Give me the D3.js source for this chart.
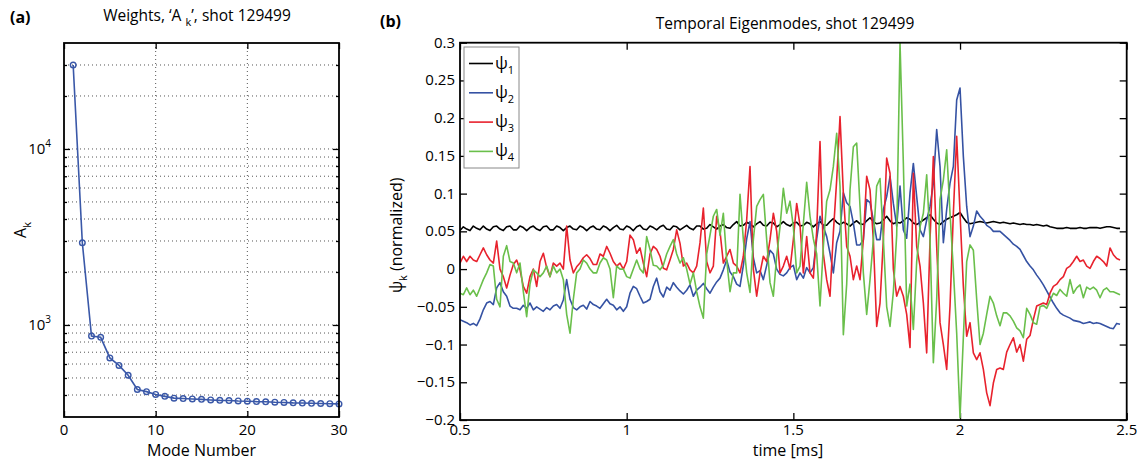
<!DOCTYPE html>
<html>
<head>
<meta charset="utf-8">
<script src="https://cdn.jsdelivr.net/npm/d3@7"></script>
<style>
  body { margin: 0; background: #fff; }
  svg { font-family: "Open Sans", sans-serif; }
  text { fill: #000; }
</style>
</head>
<body>
<div id="chart"></div>
<script>
/* Weights + temporal eigenmodes, shot 129499 */

// panel (a): weights A_k per mode
const modeNumbers = d3.range(1, 31);
const weights = [30000, 2930, 865, 851, 650, 589, 518, 430, 418, 403,
  393, 384, 382, 380, 378, 375, 373, 372, 370, 369,
  367, 366, 364, 363, 361, 360, 359, 358, 357, 356];

// panel (b): time base (ms), sampled every 0.01 from 0.50 to 2.48
const timeMs = d3.range(199).map(i => +(0.5 + i * 0.01).toFixed(2));

const psi1 = [
  0.051, 0.056, 0.053, 0.051, 0.057, 0.054, 0.052, 0.057, 0.053, 0.051,
  0.056, 0.057, 0.053, 0.051, 0.056, 0.057, 0.052, 0.052, 0.057, 0.055,
  0.051, 0.055, 0.057, 0.053, 0.051, 0.056, 0.057, 0.052, 0.052, 0.057,
  0.055, 0.051, 0.055, 0.057, 0.053, 0.052, 0.057, 0.055, 0.051, 0.055,
  0.057, 0.053, 0.052, 0.057, 0.055, 0.051, 0.055, 0.058, 0.053, 0.052,
  0.057, 0.055, 0.051, 0.056, 0.058, 0.053, 0.052, 0.057, 0.055, 0.052,
  0.056, 0.058, 0.053, 0.052, 0.057, 0.056, 0.052, 0.055, 0.058, 0.054,
  0.052, 0.057, 0.057, 0.053, 0.054, 0.059, 0.056, 0.053, 0.057, 0.059,
  0.055, 0.054, 0.059, 0.063, 0.057, 0.058, 0.062, 0.060, 0.056, 0.060,
  0.063, 0.058, 0.057, 0.062, 0.061, 0.056, 0.059, 0.063, 0.059, 0.057,
  0.061, 0.062, 0.057, 0.058, 0.062, 0.060, 0.056, 0.060, 0.063, 0.058,
  0.058, 0.063, 0.067, 0.062, 0.059, 0.062, 0.060, 0.057, 0.061, 0.064,
  0.060, 0.059, 0.064, 0.068, 0.063, 0.060, 0.061, 0.065, 0.070, 0.064,
  0.060, 0.062, 0.061, 0.064, 0.068, 0.066, 0.061, 0.059, 0.062, 0.065,
  0.068, 0.072, 0.066, 0.061, 0.059, 0.063, 0.066, 0.068, 0.070, 0.072,
  0.075, 0.068, 0.062, 0.060, 0.061, 0.062, 0.063, 0.062, 0.061, 0.062,
  0.063, 0.062, 0.061, 0.062, 0.061, 0.060, 0.061, 0.060, 0.059, 0.060,
  0.059, 0.059, 0.058, 0.059, 0.058, 0.057, 0.058, 0.056, 0.055, 0.054,
  0.054, 0.054, 0.055, 0.054, 0.054, 0.054, 0.055, 0.054, 0.054, 0.055,
  0.055, 0.055, 0.054, 0.055, 0.056, 0.056, 0.055, 0.054, 0.054];

const psi2 = [
  -0.067, -0.069, -0.071, -0.074, -0.072, -0.075, -0.066, -0.054, -0.045, -0.043,
  -0.047, -0.025, -0.018, -0.030, -0.036, -0.049, -0.052, -0.052, -0.054, -0.048,
  -0.052, -0.045, -0.054, -0.050, -0.053, -0.056, -0.051, -0.054, -0.049, -0.047,
  -0.052, -0.041, -0.014, -0.040, -0.051, -0.054, -0.050, -0.048, -0.053, -0.043,
  -0.047, -0.049, -0.052, -0.046, -0.040, -0.046, -0.048, -0.054, -0.050, -0.056,
  -0.050, -0.032, -0.023, -0.026, -0.036, -0.045, -0.043, -0.040, -0.023, -0.012,
  -0.030, -0.037, -0.024, -0.028, -0.018, -0.024, -0.029, -0.033, -0.028, -0.021,
  -0.036, -0.028, -0.024, -0.019, -0.026, -0.032, -0.024, -0.017, -0.012, -0.001,
  0.012, -0.004, -0.010, -0.020, -0.023, 0.005, 0.040, 0.063, 0.015, -0.005,
  -0.002, -0.014, 0.005, 0.025, 0.020, 0.000, -0.007, -0.009, -0.005, 0.002,
  0.005, -0.014, -0.005, -0.012, 0.002, -0.005, 0.002, 0.040, 0.070, 0.056,
  0.043, 0.021, -0.005, 0.035, 0.050, 0.101, 0.088, 0.083, 0.061, 0.032,
  0.032, 0.039, 0.092, 0.088, 0.065, 0.039, 0.039, 0.079, 0.096, 0.123,
  0.087, 0.057, 0.110, 0.052, 0.041, 0.101, 0.140, 0.096, 0.052, 0.043,
  0.065, 0.083, 0.114, 0.185, 0.136, 0.035, 0.079, 0.114, 0.136, 0.224,
  0.240, 0.149, 0.083, 0.043, 0.057, 0.077, 0.070, 0.065, 0.058, 0.055,
  0.050, 0.050, 0.050, 0.046, 0.042, 0.038, 0.033, 0.030, 0.026, 0.018,
  0.010, 0.004, -0.001, -0.008, -0.014, -0.021, -0.029, -0.037, -0.045, -0.052,
  -0.058, -0.061, -0.063, -0.065, -0.068, -0.069, -0.070, -0.072, -0.071, -0.070,
  -0.072, -0.071, -0.072, -0.074, -0.076, -0.078, -0.079, -0.072, -0.073];

const psi3 = [
  0.008, 0.017, 0.010, 0.017, 0.012, 0.010, 0.019, 0.028, 0.019, 0.012,
  0.008, 0.037, 0.000, -0.010, -0.025, -0.008, 0.006, 0.012, -0.001, -0.023,
  -0.032, -0.010, 0.000, -0.023, 0.010, 0.021, 0.002, -0.010, 0.008, 0.004,
  0.008, 0.000, 0.057, 0.012, -0.005, 0.003, 0.008, 0.015, 0.019, 0.014,
  0.006, 0.006, 0.020, 0.017, 0.030, 0.021, 0.010, 0.004, 0.008, 0.000,
  0.010, 0.045, 0.039, 0.021, 0.028, 0.008, -0.010, 0.020, 0.030, 0.026,
  0.017, 0.001, -0.001, 0.012, 0.026, 0.052, 0.034, 0.004, 0.008, -0.001,
  -0.005, 0.004, 0.035, 0.081, 0.010, -0.005, 0.004, 0.070, 0.050, 0.008,
  0.017, 0.026, 0.008, 0.004, -0.005, 0.017, 0.065, 0.136, 0.000, -0.036,
  -0.005, 0.017, 0.010, 0.039, 0.074, 0.050, -0.005, 0.004, 0.017, 0.000,
  0.039, 0.087, 0.058, -0.005, 0.043, -0.005, -0.012, 0.050, 0.169, 0.020,
  -0.014, -0.036, 0.048, 0.118, 0.202, 0.100, 0.030, 0.017, -0.014, 0.004,
  -0.014, 0.039, 0.123, 0.105, 0.039, -0.076, -0.045, 0.039, 0.147, 0.127,
  0.000, -0.036, -0.023, -0.036, -0.060, -0.104, 0.127, 0.030, 0.004, -0.045,
  -0.111, 0.039, 0.149, 0.030, -0.071, -0.100, -0.133, -0.049, 0.074, 0.176,
  0.074, -0.023, -0.089, -0.071, -0.111, -0.120, -0.111, -0.133, -0.164, -0.181,
  -0.151, -0.133, -0.131, -0.133, -0.110, -0.100, -0.091, -0.110, -0.100, -0.122,
  -0.093, -0.088, -0.067, -0.049, -0.047, -0.045, -0.047, -0.032, -0.023, -0.020,
  -0.014, -0.010, 0.001, 0.004, 0.010, 0.017, 0.010, 0.012, 0.004, 0.001,
  0.010, 0.017, 0.014, 0.010, 0.004, 0.028, 0.019, 0.014, 0.012];

const psi4 = [
  -0.032, -0.034, -0.025, -0.034, -0.028, -0.036, -0.025, -0.014, -0.005, 0.006,
  0.004, -0.040, -0.050, 0.017, 0.031, 0.010, 0.008, -0.005, 0.008, -0.030,
  -0.063, -0.020, -0.001, -0.005, -0.010, -0.005, 0.004, -0.010, 0.004, -0.005,
  0.000, -0.014, -0.060, -0.085, -0.040, -0.005, 0.000, 0.012, 0.008, 0.000,
  -0.005, -0.005, 0.008, 0.015, 0.012, 0.000, -0.038, 0.004, 0.000, 0.000,
  -0.010, -0.012, 0.000, 0.012, 0.000, -0.005, 0.043, 0.026, 0.005, 0.004,
  -0.001, 0.005, 0.020, 0.030, 0.039, 0.020, 0.008, 0.015, 0.000, -0.020,
  -0.005, -0.030, -0.050, -0.065, 0.020, 0.045, 0.070, 0.079, 0.045, 0.074,
  0.012, -0.030, -0.005, -0.005, 0.099, 0.039, -0.005, -0.031, 0.039, 0.083,
  0.092, 0.099, 0.039, -0.018, -0.036, 0.017, 0.056, 0.107, 0.074, 0.090,
  0.056, -0.005, 0.004, 0.060, 0.115, 0.070, 0.040, 0.020, -0.049, 0.030,
  0.090, 0.105, 0.136, 0.180, 0.110, -0.087, -0.020, 0.105, 0.162, 0.167,
  0.083, -0.005, -0.060, -0.014, 0.039, 0.110, 0.120, 0.040, -0.050, -0.076,
  -0.030, 0.045, 0.300, 0.140, -0.049, -0.020, -0.080, 0.010, 0.056, 0.074,
  0.125, 0.039, -0.124, -0.040, 0.092, 0.118, 0.158, 0.074, -0.001, -0.085,
  -0.197, -0.090, 0.010, 0.032, 0.025, -0.040, -0.100, -0.085, -0.060, -0.036,
  -0.045, -0.062, -0.075, -0.058, -0.058, -0.062, -0.069, -0.078, -0.082, -0.091,
  -0.052, -0.060, -0.071, -0.073, -0.050, -0.048, -0.052, -0.042, -0.032, -0.035,
  -0.027, -0.032, -0.036, -0.014, -0.032, -0.025, -0.021, -0.038, -0.024, -0.027,
  -0.024, -0.028, -0.038, -0.028, -0.025, -0.030, -0.030, -0.032, -0.034];

const seriesNames = ["1", "2", "3", "4"];
const seriesColors = ["#000000", "#3552a3", "#e8222d", "#6abf4b"];

const width = 1137, height = 460;

const svg = d3.select("#chart")
  .append("svg")
  .attr("width", width)
  .attr("height", height);

/* ---------- panel (a) ---------- */
const ma = { left: 64, right: 339, top: 43, bottom: 417 };

let xA = d3.scaleLinear().domain([0, 30]).range([ma.left, ma.right]);
let yA = d3.scaleLog().domain([300, 40000]).range([ma.bottom, ma.top]);

const gA = svg.append("g");

// dotted grid
const logGrid = [400, 500, 600, 700, 800, 900, 1000, 2000, 3000, 4000, 5000,
  6000, 7000, 8000, 9000, 10000, 20000, 30000];

gA.append("g")
  .selectAll("line")
  .data(logGrid)
  .join("line")
  .attr("x1", ma.left).attr("x2", ma.right)
  .attr("y1", d => yA(d)).attr("y2", d => yA(d))
  .attr("stroke", "#555").attr("stroke-width", 1)
  .attr("stroke-dasharray", "1,3");

gA.append("g")
  .selectAll("line")
  .data([10, 20])
  .join("line")
  .attr("x1", d => xA(d)).attr("x2", d => xA(d))
  .attr("y1", ma.top).attr("y2", ma.bottom)
  .attr("stroke", "#555").attr("stroke-width", 1)
  .attr("stroke-dasharray", "1,3");

// inward ticks, all four sides
function styleAxis(g) {
  g.select(".domain").remove();
  g.selectAll(".tick line").attr("stroke", "#000").attr("stroke-width", 1.3);
  g.selectAll(".tick text").remove();
}
const majorA = [1000, 10000];
const minorA = logGrid.filter(d => !majorA.includes(d));
gA.append("g")
  .attr("transform", `translate(0,${ma.bottom})`)
  .call(d3.axisBottom(xA).tickValues([0, 10, 20, 30]).tickSize(-6))
  .call(styleAxis);
gA.append("g")
  .attr("transform", `translate(0,${ma.top})`)
  .call(d3.axisTop(xA).tickValues([0, 10, 20, 30]).tickSize(-6))
  .call(styleAxis);
gA.append("g")
  .attr("transform", `translate(${ma.left},0)`)
  .call(d3.axisLeft(yA).tickValues(majorA).tickSize(-6))
  .call(styleAxis);
gA.append("g")
  .attr("transform", `translate(${ma.right},0)`)
  .call(d3.axisRight(yA).tickValues(majorA).tickSize(-6))
  .call(styleAxis);
gA.append("g")
  .attr("transform", `translate(${ma.left},0)`)
  .call(d3.axisLeft(yA).tickValues(minorA).tickSize(-3))
  .call(styleAxis);
gA.append("g")
  .attr("transform", `translate(${ma.right},0)`)
  .call(d3.axisRight(yA).tickValues(minorA).tickSize(-3))
  .call(styleAxis);

// tick labels
gA.append("g")
  .selectAll("text")
  .data([0, 10, 20, 30])
  .join("text")
  .attr("x", d => xA(d)).attr("y", 435)
  .attr("text-anchor", "middle")
  .attr("font-size", 15)
  .text(d => d);

const yLab = gA.append("g")
  .selectAll("text")
  .data(majorA)
  .join("text")
  .attr("x", 51).attr("y", d => yA(d) + 5)
  .attr("text-anchor", "end")
  .attr("font-size", 15);
yLab.append("tspan").text("10");
yLab.append("tspan").attr("dy", -7).attr("font-size", 10)
  .text(d => Math.round(Math.log10(d)));

// weights line + open markers
let lineA = d3.line()
  .x((d, i) => xA(modeNumbers[i]))
  .y(d => yA(d));

gA.append("path")
  .datum(weights)
  .attr("d", lineA)
  .attr("fill", "none")
  .attr("stroke", "#3a58a8")
  .attr("stroke-width", 1.6);

gA.append("g")
  .selectAll("circle")
  .data(weights)
  .join("circle")
  .attr("cx", (d, i) => xA(modeNumbers[i]))
  .attr("cy", d => yA(d))
  .attr("r", 2.8)
  .attr("fill", "none")
  .attr("stroke", "#3a58a8")
  .attr("stroke-width", 1.4);

gA.append("rect")
  .attr("x", ma.left).attr("y", ma.top)
  .attr("width", ma.right - ma.left).attr("height", ma.bottom - ma.top)
  .attr("fill", "none").attr("stroke", "#000").attr("stroke-width", 1.8);

// labels
gA.append("text")
  .attr("x", (ma.left + ma.right) / 2).attr("y", 456)
  .attr("text-anchor", "middle").attr("font-size", 16)
  .text("Mode Number");

const aY = gA.append("text")
  .attr("transform", `translate(26,${(ma.top + ma.bottom) / 2}) rotate(-90)`)
  .attr("text-anchor", "middle").attr("font-size", 16);
aY.append("tspan").text("A");
aY.append("tspan").attr("dy", 5).attr("font-size", 11).text("k");

const aT = gA.append("text")
  .attr("x", 197).attr("y", 21)
  .attr("text-anchor", "middle").attr("font-size", 15.5);
aT.append("tspan").text("Weights, \u2018A ");
aT.append("tspan").attr("dy", 5).attr("font-size", 11).text("k");
aT.append("tspan").attr("dy", -5).text("\u2019, shot 129499");

svg.append("text")
  .attr("x", 10).attr("y", 23)
  .attr("font-size", 16).attr("font-weight", "bold")
  .text("(a)");

/* ---------- panel (b) ---------- */
const mb = { left: 460, right: 1126.7, top: 42.7, bottom: 420 };

let xB = d3.scaleLinear().domain([0.5, 2.5]).range([mb.left, mb.right]);
let yB = d3.scaleLinear().domain([-0.2, 0.3]).range([mb.bottom, mb.top]);

const gB = svg.append("g");

const xTicksB = [0.5, 1, 1.5, 2, 2.5];
const yTicksB = d3.range(-0.2, 0.3001, 0.05).map(d => +d.toFixed(2));

gB.append("g")
  .attr("transform", `translate(0,${mb.bottom})`)
  .call(d3.axisBottom(xB).tickValues(xTicksB).tickSize(-7))
  .call(styleAxis);
gB.append("g")
  .attr("transform", `translate(0,${mb.top})`)
  .call(d3.axisTop(xB).tickValues(xTicksB).tickSize(-7))
  .call(styleAxis);
gB.append("g")
  .attr("transform", `translate(${mb.left},0)`)
  .call(d3.axisLeft(yB).tickValues(yTicksB).tickSize(-7))
  .call(styleAxis);
gB.append("g")
  .attr("transform", `translate(${mb.right},0)`)
  .call(d3.axisRight(yB).tickValues(yTicksB).tickSize(-7))
  .call(styleAxis);

gB.append("g")
  .selectAll("text")
  .data(xTicksB)
  .join("text")
  .attr("x", d => xB(d)).attr("y", 435)
  .attr("text-anchor", "middle").attr("font-size", 15)
  .text(d => d);

gB.append("g")
  .selectAll("text")
  .data(yTicksB)
  .join("text")
  .attr("x", 455).attr("y", d => yB(d) + 5)
  .attr("text-anchor", "end").attr("font-size", 15)
  .text(d => d3.format("~g")(d));

svg.append("clipPath").attr("id", "clipB")
  .append("rect")
  .attr("x", mb.left).attr("y", mb.top)
  .attr("width", mb.right - mb.left).attr("height", mb.bottom - mb.top);

let lineB = d3.line()
  .x((d, i) => xB(timeMs[i]))
  .y(d => yB(d));

gB.append("g")
  .attr("clip-path", "url(#clipB)")
  .selectAll("path")
  .data([psi1, psi2, psi3, psi4])
  .join("path")
  .attr("d", lineB)
  .attr("fill", "none")
  .attr("stroke", (d, i) => seriesColors[i])
  .attr("stroke-width", 1.6)
  .attr("stroke-linejoin", "round");

gB.append("rect")
  .attr("x", mb.left).attr("y", mb.top)
  .attr("width", mb.right - mb.left).attr("height", mb.bottom - mb.top)
  .attr("fill", "none").attr("stroke", "#000").attr("stroke-width", 1.8);

// legend
const leg = gB.append("g");
leg.append("rect")
  .attr("x", 464).attr("y", 47).attr("width", 55).attr("height", 121)
  .attr("fill", "#fff").attr("stroke", "#888").attr("stroke-width", 1);

const legItem = leg.selectAll("g.item")
  .data(seriesNames)
  .join("g")
  .attr("class", "item")
  .attr("transform", (d, i) => `translate(0,${63.5 + i * 29.3})`);
legItem.append("line")
  .attr("x1", 469).attr("x2", 493)
  .attr("stroke", (d, i) => seriesColors[i]).attr("stroke-width", 1.6);
const legText = legItem.append("text")
  .attr("x", 495).attr("y", 5)
  .attr("fill", "#000").attr("font-size", 17);
legText.append("tspan").text("\u03c8");
legText.append("tspan").attr("dy", 5).attr("font-size", 11).text(d => d);

// labels
svg.append("text")
  .attr("x", 785).attr("y", 29)
  .attr("text-anchor", "middle").attr("font-size", 15.5)
  .text("Temporal Eigenmodes, shot 129499");

svg.append("text")
  .attr("x", 788).attr("y", 456)
  .attr("text-anchor", "middle").attr("font-size", 16)
  .text("time [ms]");

const bY = svg.append("text")
  .attr("transform", `translate(402,${(mb.top + mb.bottom) / 2 + 4}) rotate(-90)`)
  .attr("text-anchor", "middle").attr("font-size", 16);
bY.append("tspan").text("\u03c8");
bY.append("tspan").attr("dy", 5).attr("font-size", 11).text("k");
bY.append("tspan").attr("dy", -5).text(" (normalized)");

svg.append("text")
  .attr("x", 380).attr("y", 27)
  .attr("font-size", 16).attr("font-weight", "bold")
  .text("(b)");
</script>
</body>
</html>
